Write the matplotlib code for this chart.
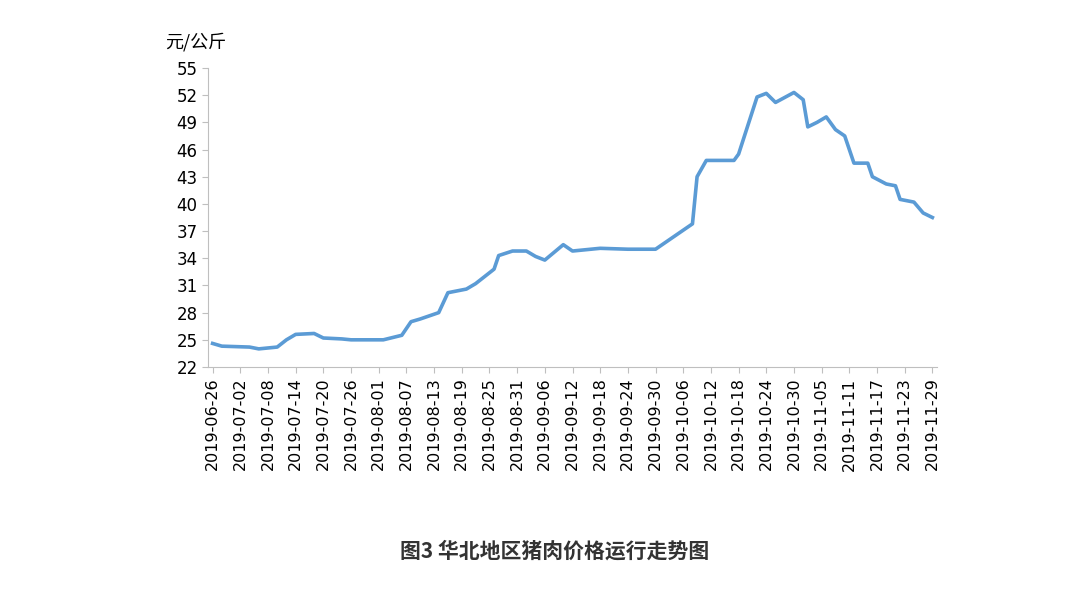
import matplotlib
matplotlib.use("Agg")
import matplotlib.pyplot as plt
import matplotlib.dates as mdates
import pandas as pd

plt.rcParams['font.family'] = ['Noto Sans CJK SC', 'DejaVu Sans']

dates = ["2019-06-26","2019-06-28","2019-07-04","2019-07-06","2019-07-10","2019-07-12","2019-07-14",
         "2019-07-18","2019-07-20","2019-07-24","2019-07-26","2019-08-02","2019-08-06","2019-08-08",
         "2019-08-10","2019-08-14","2019-08-16","2019-08-20","2019-08-22","2019-08-26","2019-08-27",
         "2019-08-30","2019-09-02","2019-09-04","2019-09-06","2019-09-10","2019-09-12","2019-09-18",
         "2019-09-24","2019-09-30","2019-10-08","2019-10-09","2019-10-11","2019-10-17","2019-10-18",
         "2019-10-22","2019-10-24","2019-10-26","2019-10-30","2019-11-01","2019-11-02","2019-11-04",
         "2019-11-06","2019-11-08","2019-11-10","2019-11-12","2019-11-15","2019-11-16","2019-11-19",
         "2019-11-21","2019-11-22","2019-11-25","2019-11-27","2019-11-29"]
prices = [24.6,24.3,24.2,24.0,24.2,25.0,25.6,25.7,25.2,25.1,25.0,25.0,25.5,27.0,27.3,28.0,30.2,30.6,
          31.2,32.8,34.3,34.8,34.8,34.2,33.8,35.5,34.8,35.1,35.0,35.0,37.8,43.0,44.8,44.8,45.5,51.8,
          52.2,51.2,52.3,51.5,48.5,49.0,49.6,48.2,47.5,44.5,44.5,43.0,42.2,42.0,40.5,40.2,39.0,38.5]
yticks = list(range(22, 56, 3))

x = pd.to_datetime(dates)
ticks = pd.date_range("2019-06-26", "2019-11-29", freq="6D")

fig = plt.figure(figsize=(10.8, 5.93), dpi=100)
ax = fig.add_axes([208/1080, 1-367/593, (937-208)/1080, (367-68)/593])
ax.plot(x, prices, color="#5b9bd5", lw=2.6)
ax.set_ylim(22, 55)
ax.set_yticks(yticks)
ax.set_xlim(pd.Timestamp("2019-06-25"), pd.Timestamp("2019-11-30"))
ax.set_xticks(ticks)
ax.xaxis.set_major_formatter(mdates.DateFormatter("%Y-%m-%d"))
plt.setp(ax.get_xticklabels(), rotation=90, fontsize=11.5, family="DejaVu Sans")
plt.setp(ax.get_yticklabels(), fontsize=12, family="DejaVu Sans")
for s in ["top", "right"]:
    ax.spines[s].set_visible(False)
for s in ["left", "bottom"]:
    ax.spines[s].set_color("#bfbfbf")
ax.tick_params(axis="y", length=4, color="#bfbfbf")
ax.tick_params(axis="x", length=4, color="#bfbfbf")
fig.text(165/1080, 1-42/593, "元/公斤", fontsize=13, va="center")
fig.text(555/1080, 1-551/593, "图3 华北地区猪肉价格运行走势图", fontsize=15, fontweight="bold",
         ha="center", va="center", color="#333333")
fig.savefig("out.png", dpi=100)
